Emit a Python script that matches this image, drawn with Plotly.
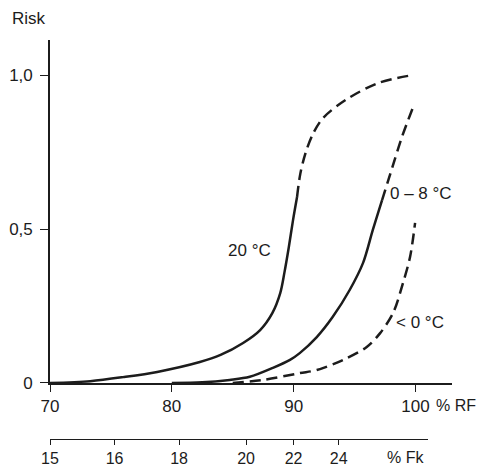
import plotly.graph_objects as go

# ---- data ----
rf_20_solid = [70, 73.3, 76.0, 78.8, 82.3, 84.0, 85.85, 87.25, 88.25, 88.9, 89.25, 89.6, 89.95, 90.28]
risk_20_solid = [0.0, 0.006, 0.019, 0.036, 0.068, 0.091, 0.130, 0.172, 0.227, 0.292, 0.36, 0.44, 0.529, 0.604]
rf_20_dash = [90.28, 90.55, 91.0, 91.6, 92.4, 94.3, 97.0, 99.75]
risk_20_dash = [0.604, 0.68, 0.75, 0.81, 0.86, 0.92, 0.975, 1.0]

rf_08_solid = [80, 82.5, 84.75, 86.4, 88.3, 89.7, 90.5, 91.9, 93.2, 94.6, 95.7, 96.5, 97.26]
risk_08_solid = [0, 0.002, 0.01, 0.02, 0.049, 0.075, 0.097, 0.149, 0.214, 0.302, 0.39, 0.497, 0.594]
rf_08_dash = [97.26, 98.1, 98.9, 99.75]
risk_08_dash = [0.594, 0.70, 0.80, 0.89]

rf_lt0 = [85, 87.5, 90.5, 91.9, 94.06, 96.0, 97.1, 98.16, 98.98, 99.56, 99.97]
risk_lt0 = [0, 0.01, 0.032, 0.042, 0.075, 0.117, 0.162, 0.227, 0.325, 0.41, 0.52]

rf_ticks = [70, 80, 90, 100]
rf_ticklabels = ["70", "80", "90", "100"]
risk_ticks = [0, 0.5, 1.0]
risk_ticklabels = ["0", "0,5", "1,0"]
fk_tick_pos = [70, 75.3, 80.6, 86.1, 90.0, 93.7]   # position on RF scale
fk_ticklabels = ["15", "16", "18", "20", "22", "24"]

INK = "#1c1c1c"
FONT = "Liberation Sans, Arial, sans-serif"
FS = 17

fig = go.Figure()

def add_line(x, y, dash):
    fig.add_trace(go.Scatter(x=x, y=y, mode="lines",
                             line=dict(color=INK, width=2.5, dash=dash, shape="spline", smoothing=0.9),
                             cliponaxis=False, hoverinfo="skip", showlegend=False))

# invisible trace to activate the second (Fk) axis
fig.add_trace(go.Scatter(x=[70, 101], y=[0, 0], xaxis="x2", yaxis="y", mode="lines",
                         line=dict(width=0, color="rgba(0,0,0,0)"), hoverinfo="skip", showlegend=False))

DASH = "11px,6px"
add_line(rf_20_solid, risk_20_solid, "solid")
add_line(rf_20_dash, risk_20_dash, DASH)
add_line(rf_08_solid, risk_08_solid, "solid")
add_line(rf_08_dash, risk_08_dash, DASH)
add_line(rf_lt0, risk_lt0, DASH)

fig.update_layout(
    width=479, height=472,
    margin=dict(l=50, r=27, t=40, b=33),
    paper_bgcolor="white", plot_bgcolor="rgba(0,0,0,0)",
    font=dict(family=FONT, size=FS, color=INK),
    xaxis=dict(range=[70, 103], domain=[0, 1], anchor="y", showline=True, linecolor=INK, linewidth=1.6,
               ticks="outside", ticklen=7, tickwidth=1.4, tickcolor=INK, automargin=False,
               tickvals=rf_ticks, ticktext=rf_ticklabels, showgrid=False, zeroline=False),
    xaxis2=dict(range=[70, 101.03], domain=[0, 0.94], anchor="free", position=0, showline=True,
                linecolor=INK, linewidth=1.4, ticks="outside", ticklen=5, tickwidth=1.4, tickcolor=INK,
                automargin=False, tickfont=dict(size=16),
                tickvals=fk_tick_pos, ticktext=fk_ticklabels, showgrid=False, zeroline=False),
    yaxis=dict(range=[0, 1.114], domain=[0.1404, 1], anchor="x", showline=True, linecolor=INK, linewidth=1.6,
               ticks="outside", ticklen=8, tickwidth=1.4, tickcolor=INK, ticklabelstandoff=4, automargin=False,
               tickvals=risk_ticks, ticktext=risk_ticklabels, showgrid=False, zeroline=False),
)

ann = dict(showarrow=False, font=dict(family=FONT, size=FS, color=INK))
fig.add_annotation(text="Risk", xref="paper", yref="paper", x=-0.0995, y=1.0547, xanchor="left", yanchor="middle", **ann)
fig.add_annotation(text="20 °C", xref="x", yref="y", x=86.4, y=0.43, xanchor="center", yanchor="middle", **ann)
fig.add_annotation(text="0 – 8 °C", xref="x", yref="y", x=100.46, y=0.617, xanchor="center", yanchor="middle", **ann)
fig.add_annotation(text="< 0 °C", xref="x", yref="y", x=100.4, y=0.195, xanchor="center", yanchor="middle", **ann)
fig.add_annotation(text="% RF", xref="paper", yref="paper", x=0.955, xanchor="left", y=0.085, yanchor="middle",
                   showarrow=False, font=dict(family=FONT, size=16, color=INK))
fig.add_annotation(text="% Fk", xref="x", yref="paper", x=99.15, y=-0.046, xanchor="center", yanchor="middle",
                   showarrow=False, font=dict(family=FONT, size=16, color=INK))

fig.write_html("out.html")
